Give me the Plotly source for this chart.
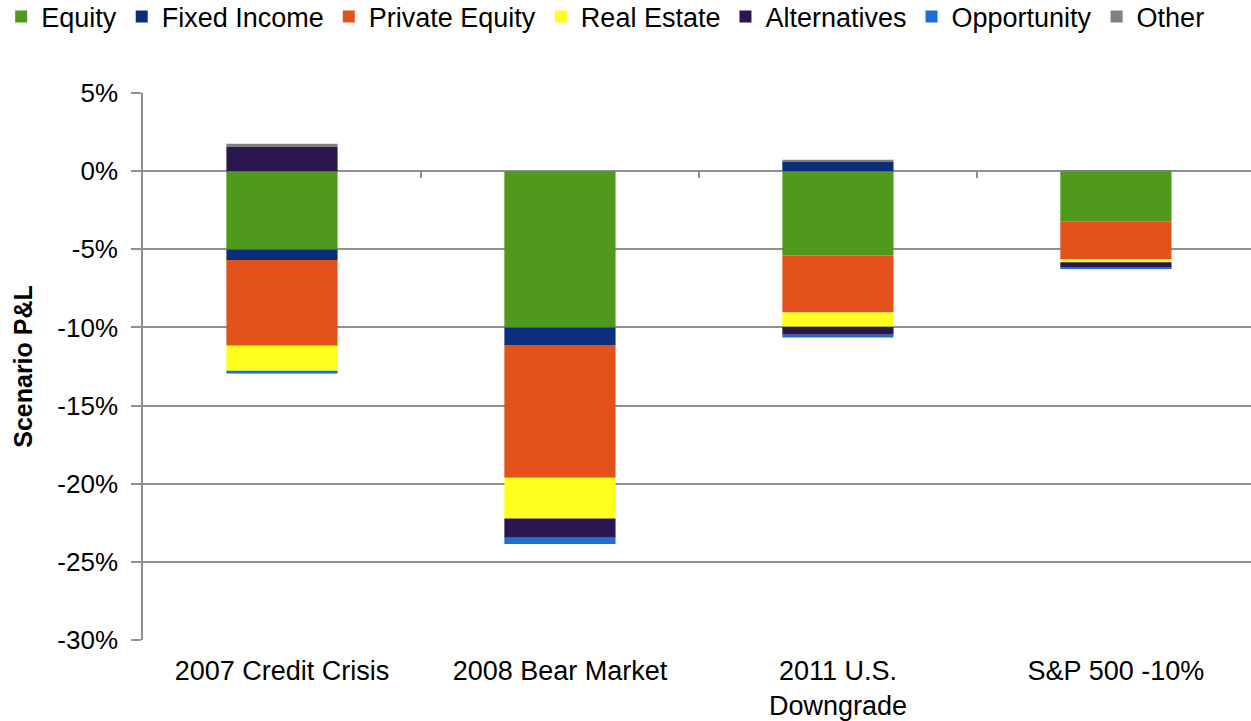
import plotly.graph_objects as go

# Scenario categories (x axis)
categories = ["2007 Credit Crisis", "2008 Bear Market", "2011 U.S.<br>Downgrade", "S&P 500 -10%"]

# Scenario P&L contribution by asset class, in percent
equity = [-5.02, -10.00, -5.40, -3.20]
fixed_income = [-0.66, -1.13, 0.58, 0.0]
private_equity = [-5.49, -8.49, -3.64, -2.42]
real_estate = [-1.60, -2.60, -0.92, -0.21]
alternatives = [1.55, -1.24, -0.51, -0.32]
opportunity = [-0.17, -0.39, -0.17, -0.10]
other = [0.20, 0.00, 0.15, 0.05]

series = [
    ("Equity", equity, "#4f9a1c"),
    ("Fixed Income", fixed_income, "#0c2c7c"),
    ("Private Equity", private_equity, "#e2521a"),
    ("Real Estate", real_estate, "#ffff1e"),
    ("Alternatives", alternatives, "#2b1650"),
    ("Opportunity", opportunity, "#1b6fd6"),
    ("Other", other, "#808080"),
]

y_ticks = [5, 0, -5, -10, -15, -20, -25, -30]

FONT = "Liberation Sans, Arial, sans-serif"
GRID = "#8f8f8f"

fig = go.Figure()
for name, vals, color in series:
    fig.add_trace(go.Bar(
        name=name, x=categories, y=vals,
        marker=dict(color=color, line=dict(width=0)),
    ))

# invisible trace so the secondary x axis (category ticks on the 0% line) renders
fig.add_trace(go.Scatter(x=[0], y=[0], xaxis="x2", mode="markers",
                         marker=dict(opacity=0), showlegend=False, hoverinfo="skip"))

fig.update_layout(
    width=1251, height=721,
    margin=dict(l=143, r=0, t=93, b=81, autoexpand=False),
    barmode="relative",
    bargap=0.6,
    plot_bgcolor="white",
    paper_bgcolor="white",
    font=dict(family=FONT, color="black", size=26),
    legend=dict(
        orientation="h", x=-0.128, xanchor="left", y=1.139, yanchor="middle",
        font=dict(size=27), itemwidth=30, traceorder="normal",
        bgcolor="rgba(0,0,0,0)",
    ),
    xaxis=dict(
        range=[-0.5, 3.486],
        showgrid=False, showline=False, ticks="",
        tickfont=dict(size=27),
        ticklabelstandoff=12,
    ),
    xaxis2=dict(
        overlaying="x", anchor="free", position=1 - 5 / 35,
        range=[-0.5, 3.486],
        tickvals=[0.5, 1.5, 2.5], showticklabels=False,
        ticks="outside", ticklen=6, tickcolor=GRID, tickwidth=1.5,
        showgrid=False, showline=False, zeroline=False,
    ),
    yaxis=dict(
        range=[-30, 5],
        tickvals=y_ticks,
        ticktext=[f"{v}%" for v in y_ticks],
        showgrid=True, gridcolor=GRID, gridwidth=1.6,
        zeroline=False,
        showline=True, linecolor=GRID, linewidth=1.6,
        ticks="outside", ticklen=10, tickcolor=GRID, tickwidth=1.5,
        tickfont=dict(size=26),
        ticklabelstandoff=8,
        title=dict(text="<b>Scenario P&L</b>", font=dict(size=25), standoff=18),
    ),
)

fig.write_html("out.html")
